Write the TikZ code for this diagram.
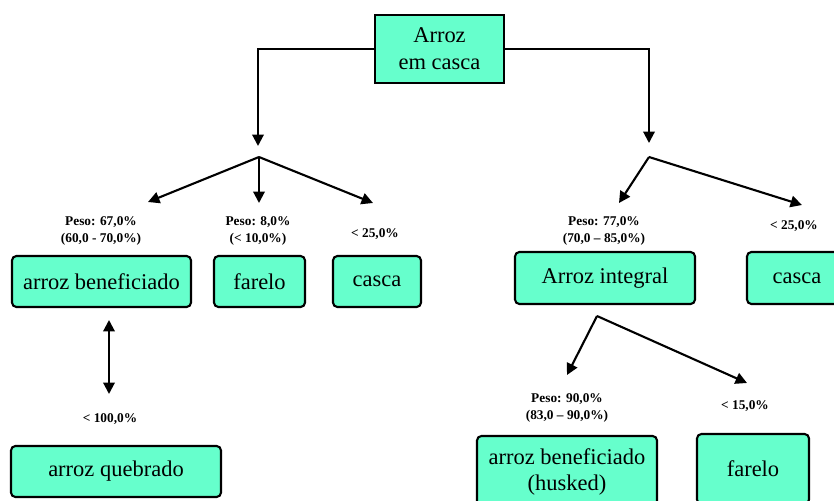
\documentclass[tikz,border=0pt]{standalone}
\usepackage{fontspec}
\setmainfont{Liberation Serif}
\usetikzlibrary{arrows.meta}

\definecolor{boxgreen}{RGB}{102,255,204}

\tikzset{
  prodbox/.style={draw, fill=boxgreen, line width=1.2pt, rounded corners=2.5pt,
    inner sep=0pt, align=center, font=\fontsize{12.8}{15.3}\selectfont},
  rootbox/.style={prodbox, rounded corners=0pt, line width=1.6pt},
  pct/.style={align=center, inner sep=0pt, font=\bfseries\fontsize{7.6}{10.2}\selectfont},
  flow/.style={line width=1.2pt, -{Triangle[length=6.5pt,width=6.5pt]}},
  bothflow/.style={line width=1.2pt, {Triangle[length=6.5pt,width=6.5pt]}-{Triangle[length=6.5pt,width=6.5pt]}},
}

\begin{document}
\begin{tikzpicture}[x=0.02cm, y=-0.02cm]

    % Page size of the reference (pixels)
    \useasboundingbox (0,0) rectangle (834,500);
    \clip (0,0) rectangle (834,500);

    % Root box
    \node[rootbox, minimum width=2.58cm, minimum height=1.36cm] (root) at (439.5,49) {Arroz\\em casca};

    % Products of the first branch (left)
    \node[prodbox, minimum width=3.58cm, minimum height=1.02cm] (benef) at (101.5,281.5) {arroz beneficiado};
    \node[prodbox, minimum width=1.82cm, minimum height=1.02cm] (farelo) at (259.5,281.5) {farelo};
    \node[prodbox, minimum width=1.76cm, minimum height=1.02cm] (casca) at (377,281.5) {casca};
    \node[prodbox, minimum width=4.2cm, minimum height=1.02cm] (quebrado) at (116,471.5) {arroz quebrado};

    % Products of the second branch (right)
    \node[prodbox, minimum width=3.6cm, minimum height=1.04cm] (integral) at (605,278) {Arroz integral};
    \node[prodbox, minimum width=2cm, minimum height=1.04cm] (cascaint) at (797,278) {casca};
    \node[prodbox, minimum width=3.6cm, minimum height=1.44cm] (husked) at (567,472) {arroz beneficiado\\(husked)};
    \node[prodbox, minimum width=2.24cm, minimum height=1.4cm] (fareloint) at (753,469) {farelo};

    % Percentages
    \node[pct] (pbenef) at (101,231) {Peso: 67,0\%\\(60,0 - 70,0\%)};
    \node[pct] (pfarelo) at (258,231) {Peso: 8,0\%\\(< 10,0\%)};
    \node[pct] (pcasca) at (375,234) {< 25,0\%};
    \node[pct] (pquebrado) at (110,419) {< 100,0\%};
    \node[pct] (pintegral) at (604,231) {Peso: 77,0\%\\(70,0 – 85,0\%)};
    \node[pct] (pcascaint) at (794,226) {< 25,0\%};
    \node[pct] (phusked) at (567,408) {Peso: 90,0\%\\(83,0 – 90,0\%)};
    \node[pct] (pfareloint) at (745,406) {< 15,0\%};

    % Arrow ends and split points
    \coordinate (downL) at (258,146);
    \coordinate (downR) at (649,143);
    \coordinate (splitL) at (259,157);
    \coordinate (splitR) at (649,157);
    \coordinate (splitI) at (597,316);
    \coordinate (toBenef) at (148,202);
    \coordinate (toFarelo) at (259,203);
    \coordinate (toCasca) at (373,203);
    \coordinate (toIntegral) at (619,203);
    \coordinate (toCascaInt) at (802,205);
    \coordinate (toHusked) at (567,375);
    \coordinate (toFareloInt) at (747,383);
    \coordinate (brokenTop) at (109,320);
    \coordinate (brokenBot) at (109,394);

    % From the root down to both branches
    \draw[flow] (root.west) -| (downL);
    \draw[flow] (root.east) -| (downR);

    % Left split
    \draw[flow] (splitL) -- (toBenef);
    \draw[flow] (splitL) -- (toFarelo);
    \draw[flow] (splitL) -- (toCasca);

    % Right split
    \draw[flow] (splitR) -- (toIntegral);
    \draw[flow] (splitR) -- (toCascaInt);

    % Split of the integral rice
    \draw[flow] (splitI) -- (toHusked);
    \draw[flow] (splitI) -- (toFareloInt);

    % Broken rice
    \draw[bothflow] (brokenTop) -- (brokenBot);

\end{tikzpicture}
\end{document}
